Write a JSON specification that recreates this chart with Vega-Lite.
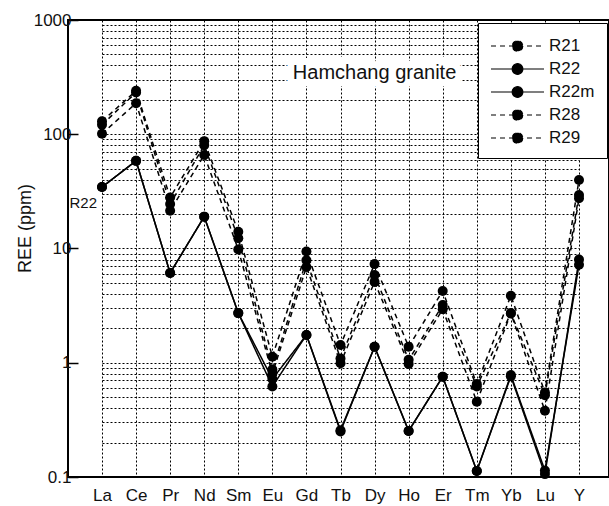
{
  "$schema": "https://vega.github.io/schema/vega-lite/v6.json",
  "autosize": "none",
  "padding": {"left": 68, "top": 20, "right": 0, "bottom": 29},
  "width": 541,
  "height": 457,
  "config": {
    "font": "Liberation Sans",
    "view": {"stroke": "black", "strokeWidth": 2}
  },
  "datasets": {
    "ree": [
      {"el": "La", "series": "R21", "v": 130}, {"el": "La", "series": "R22", "v": 34.5}, {"el": "La", "series": "R22m", "v": 34.5}, {"el": "La", "series": "R28", "v": 121}, {"el": "La", "series": "R29", "v": 101},
      {"el": "Ce", "series": "R21", "v": 240}, {"el": "Ce", "series": "R22", "v": 58.5}, {"el": "Ce", "series": "R22m", "v": 58.5}, {"el": "Ce", "series": "R28", "v": 232}, {"el": "Ce", "series": "R29", "v": 187},
      {"el": "Pr", "series": "R21", "v": 28}, {"el": "Pr", "series": "R22", "v": 6.1}, {"el": "Pr", "series": "R22m", "v": 6.1}, {"el": "Pr", "series": "R28", "v": 24.5}, {"el": "Pr", "series": "R29", "v": 21.4},
      {"el": "Nd", "series": "R21", "v": 87}, {"el": "Nd", "series": "R22", "v": 19}, {"el": "Nd", "series": "R22m", "v": 19}, {"el": "Nd", "series": "R28", "v": 80}, {"el": "Nd", "series": "R29", "v": 65.8},
      {"el": "Sm", "series": "R21", "v": 14}, {"el": "Sm", "series": "R22", "v": 2.72}, {"el": "Sm", "series": "R22m", "v": 2.72}, {"el": "Sm", "series": "R28", "v": 12.3}, {"el": "Sm", "series": "R29", "v": 9.8},
      {"el": "Eu", "series": "R21", "v": 1.13}, {"el": "Eu", "series": "R22", "v": 0.62}, {"el": "Eu", "series": "R22m", "v": 0.72}, {"el": "Eu", "series": "R28", "v": 0.87}, {"el": "Eu", "series": "R29", "v": 0.8},
      {"el": "Gd", "series": "R21", "v": 9.4}, {"el": "Gd", "series": "R22", "v": 1.75}, {"el": "Gd", "series": "R22m", "v": 1.75}, {"el": "Gd", "series": "R28", "v": 7.9}, {"el": "Gd", "series": "R29", "v": 6.9},
      {"el": "Tb", "series": "R21", "v": 1.43}, {"el": "Tb", "series": "R22", "v": 0.257}, {"el": "Tb", "series": "R22m", "v": 0.25}, {"el": "Tb", "series": "R28", "v": 1.09}, {"el": "Tb", "series": "R29", "v": 0.99},
      {"el": "Dy", "series": "R21", "v": 7.3}, {"el": "Dy", "series": "R22", "v": 1.38}, {"el": "Dy", "series": "R22m", "v": 1.38}, {"el": "Dy", "series": "R28", "v": 5.86}, {"el": "Dy", "series": "R29", "v": 5.1},
      {"el": "Ho", "series": "R21", "v": 1.38}, {"el": "Ho", "series": "R22", "v": 0.253}, {"el": "Ho", "series": "R22m", "v": 0.253}, {"el": "Ho", "series": "R28", "v": 1.06}, {"el": "Ho", "series": "R29", "v": 0.975},
      {"el": "Er", "series": "R21", "v": 4.25}, {"el": "Er", "series": "R22", "v": 0.755}, {"el": "Er", "series": "R22m", "v": 0.755}, {"el": "Er", "series": "R28", "v": 3.2}, {"el": "Er", "series": "R29", "v": 2.94},
      {"el": "Tm", "series": "R21", "v": 0.65}, {"el": "Tm", "series": "R22", "v": 0.113}, {"el": "Tm", "series": "R22m", "v": 0.113}, {"el": "Tm", "series": "R28", "v": 0.62}, {"el": "Tm", "series": "R29", "v": 0.456},
      {"el": "Yb", "series": "R21", "v": 3.86}, {"el": "Yb", "series": "R22", "v": 0.78}, {"el": "Yb", "series": "R22m", "v": 0.76}, {"el": "Yb", "series": "R28", "v": 2.72}, {"el": "Yb", "series": "R29", "v": 2.7},
      {"el": "Lu", "series": "R21", "v": 0.55}, {"el": "Lu", "series": "R22", "v": 0.114}, {"el": "Lu", "series": "R22m", "v": 0.106}, {"el": "Lu", "series": "R28", "v": 0.52}, {"el": "Lu", "series": "R29", "v": 0.38},
      {"el": "Y", "series": "R21", "v": 39.8}, {"el": "Y", "series": "R22", "v": 7.2}, {"el": "Y", "series": "R22m", "v": 8.0}, {"el": "Y", "series": "R28", "v": 29.4}, {"el": "Y", "series": "R29", "v": 27.5}
    ],
    "notes": [
      {"label": "Hamchang granite", "el": "Dy", "v": 343}
    ],
    "tags": [
      {"label": "R22", "el": "La", "v": 25}
    ]
  },
  "encoding": {
    "x": {
      "field": "el", "type": "ordinal",
      "sort": ["La", "Ce", "Pr", "Nd", "Sm", "Eu", "Gd", "Tb", "Dy", "Ho", "Er", "Tm", "Yb", "Lu", "Y"],
      "scale": {"type": "point", "range": [34, 511], "padding": 0,
        "domain": ["La", "Ce", "Pr", "Nd", "Sm", "Eu", "Gd", "Tb", "Dy", "Ho", "Er", "Tm", "Yb", "Lu", "Y"]},
      "axis": {
        "title": null, "labelAngle": 0, "labelFontSize": 17, "labelColor": "#111",
        "labelPadding": 10, "ticks": false, "domain": false,
        "grid": true, "gridColor": "black", "gridDash": [2, 2], "gridWidth": 1
      }
    },
    "y": {
      "field": "v", "type": "quantitative",
      "scale": {"type": "log", "domain": [0.1, 1000], "nice": false},
      "axis": {
        "title": "REE (ppm)", "titleFontSize": 18, "titleFontWeight": "normal", "titleColor": "#111",
        "titleX": -43, "titleY": 208, "titleAngle": -90, "titleAlign": "center", "titleBaseline": "middle",
        "values": [0.1, 0.2, 0.3, 0.4, 0.5, 0.6, 0.7, 0.8, 0.9, 1, 2, 3, 4, 5, 6, 7, 8, 9, 10, 20, 30, 40, 50, 60, 70, 80, 90, 100, 200, 300, 400, 500, 600, 700, 800, 900, 1000],
        "format": "~g",
        "labelExpr": "(datum.value == 0.1 || datum.value == 1 || datum.value == 10 || datum.value == 100 || datum.value == 1000) ? datum.label : ''",
        "labelFontSize": 17, "labelColor": "#111", "labelPadding": 7,
        "domain": false,
        "ticks": true, "tickSize": -10, "tickColor": "black", "tickWidth": 1.5,
        "tickOpacity": {"condition": {"test": "datum.value == 0.1 || datum.value == 1 || datum.value == 10 || datum.value == 100 || datum.value == 1000", "value": 1}, "value": 0},
        "grid": true, "gridColor": "black", "gridDash": [2, 2], "gridWidth": 1
      }
    }
  },
  "layer": [
    {
      "data": {"name": "ree"},
      "mark": {"type": "line", "color": "black", "strokeWidth": 1.5},
      "encoding": {
        "detail": {"field": "series"},
        "strokeDash": {
          "field": "series", "type": "nominal",
          "scale": {"domain": ["R21", "R22", "R22m", "R28", "R29"], "range": [[5, 4], [1, 0], [1, 0], [5, 4], [5, 4]]},
          "legend": {
            "title": null, "orient": "none", "legendX": 410, "legendY": 3,
            "symbolType": "M-1,0L4.3,0M2.18,0A0.53,0.53 0 1,1 1.12,0A0.53,0.53 0 1,1 2.18,0Z",
            "symbolSize": 400, "symbolStrokeColor": "black", "symbolFillColor": "black", "symbolStrokeWidth": 1.2,
            "labelFontSize": 17, "labelColor": "#111", "labelOffset": 37,
            "rowPadding": 4, "padding": 12,
            "strokeColor": "black", "fillColor": "white",
            "encode": {"symbols": {"update": {"fill": {"value": "black"}, "stroke": {"value": "black"}}}}
          }
        }
      }
    },
    {
      "data": {"name": "ree"},
      "mark": {"type": "circle", "color": "black", "opacity": 1, "size": 100}
    },
    {
      "data": {"name": "notes"},
      "mark": {"type": "text", "fontSize": 20, "stroke": "white", "strokeWidth": 14, "fill": "white", "align": "center", "baseline": "middle"},
      "encoding": {"text": {"field": "label"}}
    },
    {
      "data": {"name": "notes"},
      "mark": {"type": "text", "fontSize": 20, "color": "#111", "align": "center", "baseline": "middle"},
      "encoding": {"text": {"field": "label"}}
    },
    {
      "data": {"name": "tags"},
      "mark": {"type": "text", "fontSize": 15, "color": "#111", "align": "right", "baseline": "middle", "dx": -5},
      "encoding": {"text": {"field": "label"}}
    }
  ]
}
